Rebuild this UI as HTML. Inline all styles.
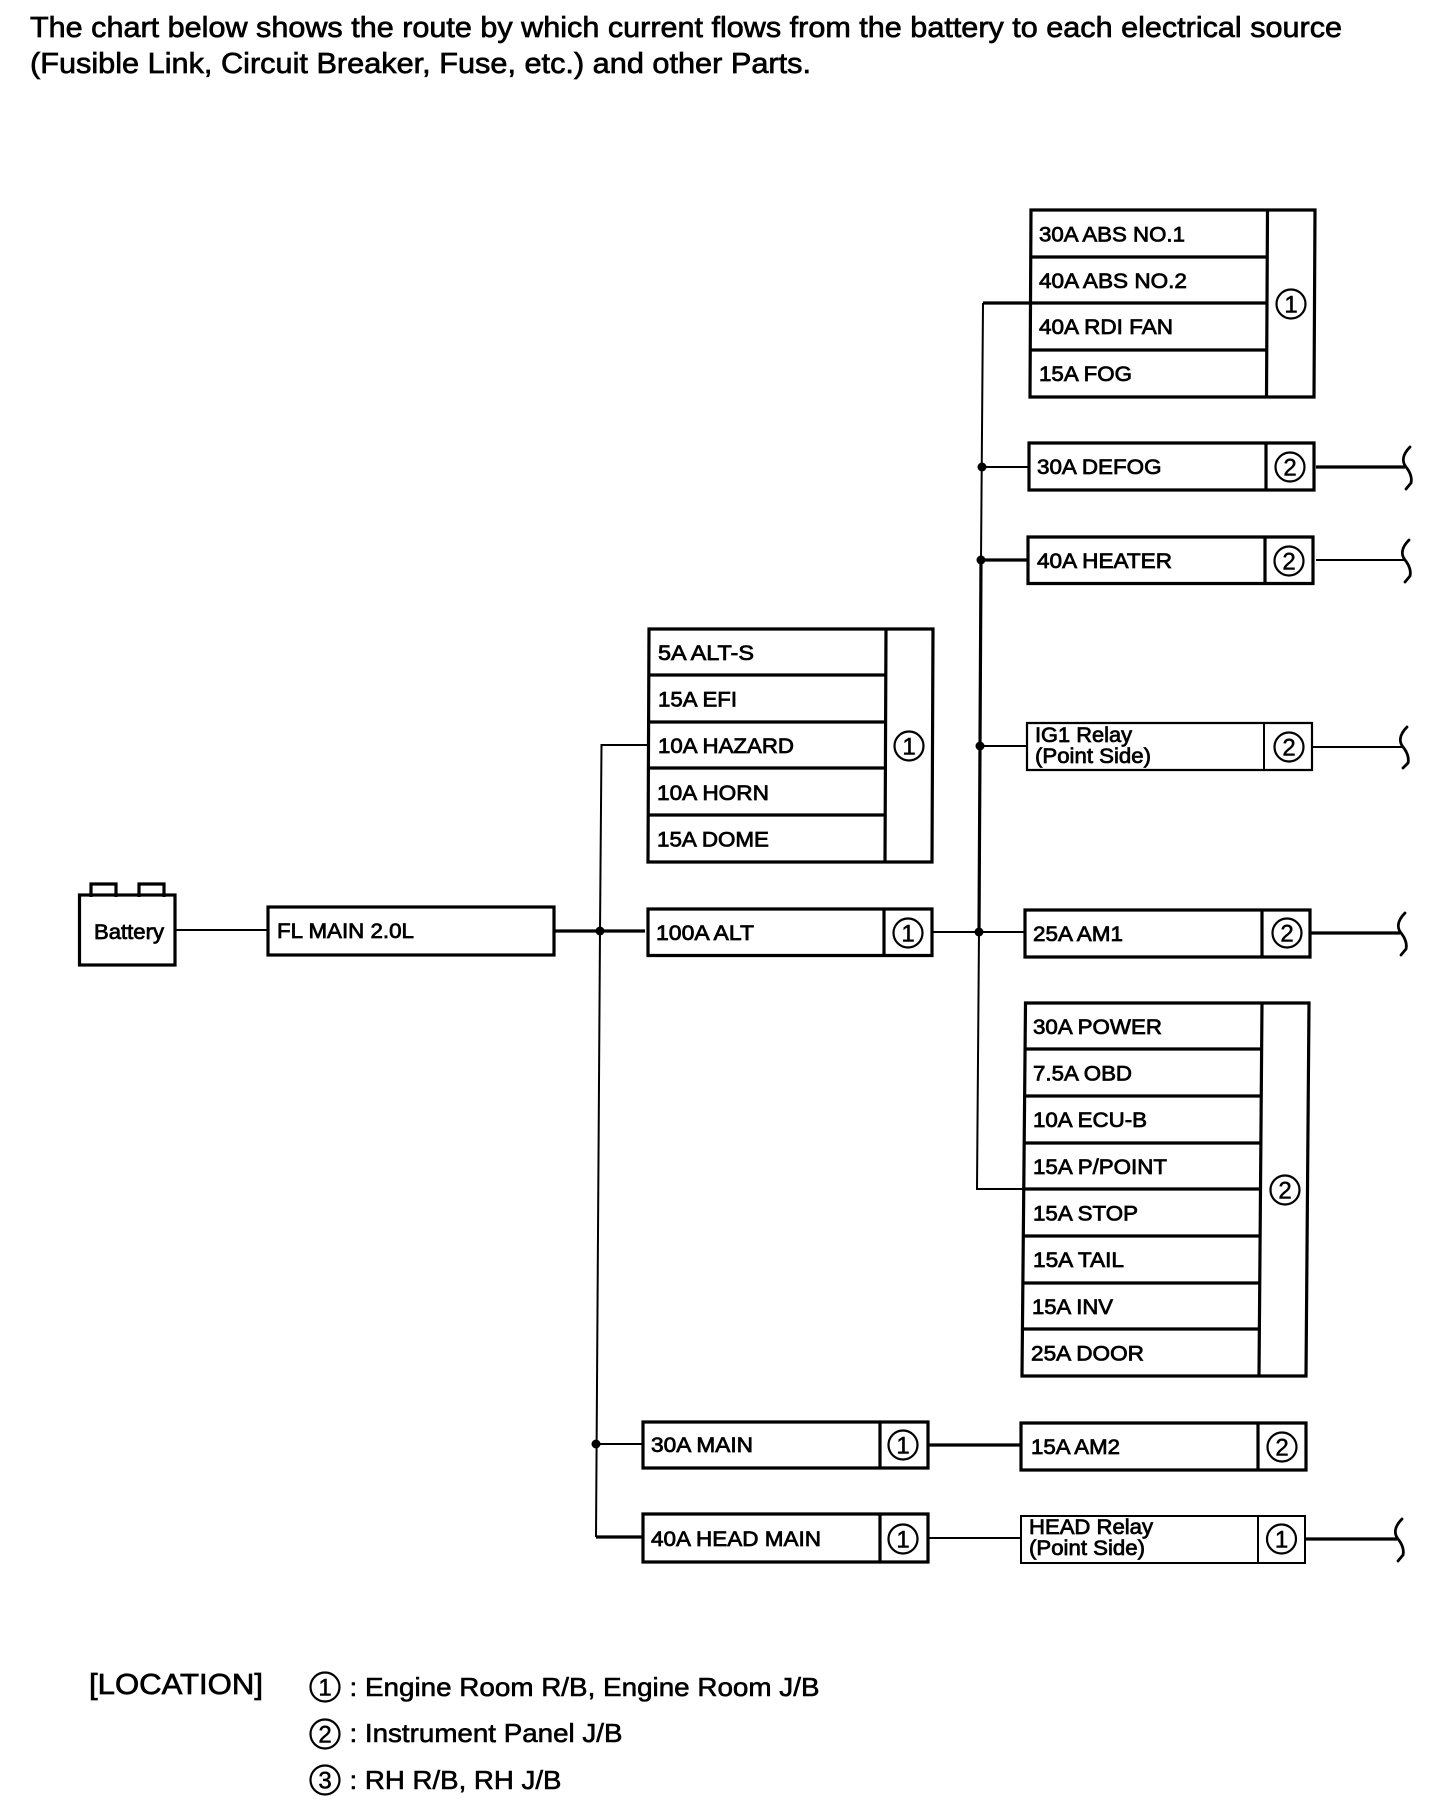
<!DOCTYPE html>
<html lang="en">
<head>
<meta charset="utf-8">
<title>Power Source Chart</title>
<style>
html,body{margin:0;padding:0;background:#fff;width:1440px;height:1814px;overflow:hidden}
svg{display:block}
text{font-family:"Liberation Sans",Arial,sans-serif;fill:#000;stroke:#000}
.h{font-size:29px;stroke-width:.7}
.l{font-size:21px;stroke-width:.75}
.n{font-size:24px;stroke-width:.5;text-anchor:middle}
.g{font-size:26px;stroke-width:.6}
.c{fill:#fff;stroke:#000;stroke-width:2.2}
.k{fill:none;stroke:#000;stroke-width:3.2}
.t{fill:none;stroke:#000;stroke-width:2}
.b{fill:none;stroke:#000;stroke-width:2.8;stroke-linecap:round}
</style>
</head>
<body>
<svg width="1440" height="1814" viewBox="0 0 1440 1814" xmlns="http://www.w3.org/2000/svg">
<rect width="1440" height="1814" fill="#fff"/>

<!-- Heading -->
<text class="h" x="30" y="37" textLength="1312" lengthAdjust="spacingAndGlyphs">The chart below shows the route by which current flows from the battery to each electrical source</text>
<text class="h" x="30" y="73" textLength="781" lengthAdjust="spacingAndGlyphs">(Fusible Link, Circuit Breaker, Fuse, etc.) and other Parts.</text>

<!-- Connectors -->
<path class="t" d="M176 930H268"/>
<path class="k" d="M554 931H645"/>
<path class="t" d="M649 745H601.500L600 931L596 1537"/>
<path class="k" d="M596 1537H643"/>
<path class="t" d="M596 1444H643"/>
<path class="t" d="M932 932H1025"/>
<path class="k" d="M1031 303H983"/>
<path class="t" d="M983 303L981 560"/>
<path class="k" d="M981 560L979 932"/>
<path class="t" d="M979 932L977 1189H1024"/>
<path class="t" d="M982 467H1029"/>
<path class="k" d="M981 560H1028"/>
<path class="t" d="M980 746H1027"/>
<path class="t" d="M979 932H1025"/>
<path class="k" d="M927 1445H1021"/>
<path class="t" d="M927 1538H1020"/>
<path class="k" d="M1316 467H1405"/>
<path class="t" d="M1316 560H1404"/>
<path class="t" d="M1313 747H1402"/>
<path class="k" d="M1311 933H1400"/>
<path class="k" d="M1306 1539H1397"/>

<!-- Junction dots -->
<circle cx="600" cy="931" r="4.500"/>
<circle cx="596" cy="1444" r="4.500"/>
<circle cx="982" cy="467" r="4.500"/>
<circle cx="981" cy="560" r="4.500"/>
<circle cx="980" cy="746" r="4.500"/>
<circle cx="979" cy="932" r="4.500"/>

<!-- Braces -->
<path class="b" d="M1410 447C1402 455 1402 462 1406 467C1411 473 1412 479 1411 483L1406 489"/>
<path class="b" d="M1409 540C1401 548 1401 555 1405 560C1410 566 1411 572 1410 576L1405 582"/>
<path class="b" d="M1407 727C1399 735 1399 742 1403 747C1408 753 1409 759 1408 763L1403 768"/>
<path class="b" d="M1405 913C1397 921 1397 928 1401 933C1406 939 1407 945 1406 949L1401 955"/>
<path class="b" d="M1402 1519C1394 1527 1394 1534 1398 1539C1403 1545 1404 1551 1403 1555L1398 1561"/>

<!-- Battery -->
<path class="k" d="M91 897V884H116V897M139 897V884H164V897"/>
<rect class="k" x="79.500" y="895" width="95.500" height="70"/>
<text class="l" x="94" y="939" textLength="70" lengthAdjust="spacingAndGlyphs">Battery</text>

<!-- FL MAIN -->
<rect class="k" x="268" y="907" width="286" height="48"/>
<text class="l" x="277" y="938" textLength="137" lengthAdjust="spacingAndGlyphs">FL MAIN 2.0L</text>

<!-- Top group -->
<path class="k" d="M1031 210H1315L1314 397H1030ZM1267.500 210L1266.500 397M1031 257H1267M1031 303H1267M1031 350H1267"/>
<text class="l" x="1039" y="241.700" textLength="146" lengthAdjust="spacingAndGlyphs">30A ABS NO.1</text>
<text class="l" x="1039" y="288" textLength="148" lengthAdjust="spacingAndGlyphs">40A ABS NO.2</text>
<text class="l" x="1039" y="334" textLength="134" lengthAdjust="spacingAndGlyphs">40A RDI FAN</text>
<text class="l" x="1039" y="381" textLength="93" lengthAdjust="spacingAndGlyphs">15A FOG</text>
<circle class="c" cx="1291" cy="304" r="14.500"/><text class="n" x="1291" y="312.500">1</text>

<!-- DEFOG -->
<path class="k" d="M1029 443H1314V490H1029ZM1266 443V490"/>
<text class="l" x="1037" y="474" textLength="124.500" lengthAdjust="spacingAndGlyphs">30A DEFOG</text>
<circle class="c" cx="1290" cy="467" r="14.500"/><text class="n" x="1290" y="475.500">2</text>

<!-- HEATER -->
<path class="k" d="M1028 537H1313V583.500H1028ZM1265 537V583.500"/>
<text class="l" x="1037" y="568" textLength="135" lengthAdjust="spacingAndGlyphs">40A HEATER</text>
<circle class="c" cx="1289" cy="561" r="14.500"/><text class="n" x="1289" y="569.500">2</text>

<!-- IG1 Relay -->
<path class="k" d="M1027 723H1312V770H1027Z" style="stroke-width:2.200"/>
<path class="t" d="M1264 723V770"/>
<text class="l" x="1035" y="742" textLength="97" lengthAdjust="spacingAndGlyphs">IG1 Relay</text>
<text class="l" x="1035" y="763" textLength="116" lengthAdjust="spacingAndGlyphs">(Point Side)</text>
<circle class="c" cx="1289" cy="747" r="14.500"/><text class="n" x="1289" y="755.500">2</text>

<!-- AM1 -->
<path class="k" d="M1025 910H1310V957H1025ZM1262 910V957"/>
<text class="l" x="1033" y="941" textLength="90" lengthAdjust="spacingAndGlyphs">25A AM1</text>
<circle class="c" cx="1287" cy="933" r="14.500"/><text class="n" x="1287" y="941.500">2</text>

<!-- Large group -->
<path class="k" d="M1025.500 1003H1309L1306 1376H1022ZM1262 1003L1259 1376M1025 1049H1261.500M1025 1096H1261M1024.500 1143H1261M1024 1189H1260.500M1024 1236H1260M1023 1283H1260M1023 1329H1259.500"/>
<text class="l" x="1033" y="1034" textLength="129" lengthAdjust="spacingAndGlyphs">30A POWER</text>
<text class="l" x="1033" y="1080.500" textLength="99" lengthAdjust="spacingAndGlyphs">7.5A OBD</text>
<text class="l" x="1033" y="1127" textLength="114" lengthAdjust="spacingAndGlyphs">10A ECU-B</text>
<text class="l" x="1033" y="1174" textLength="134" lengthAdjust="spacingAndGlyphs">15A P/POINT</text>
<text class="l" x="1033" y="1220.500" textLength="105" lengthAdjust="spacingAndGlyphs">15A STOP</text>
<text class="l" x="1033" y="1267" textLength="91" lengthAdjust="spacingAndGlyphs">15A TAIL</text>
<text class="l" x="1032" y="1314" textLength="81" lengthAdjust="spacingAndGlyphs">15A INV</text>
<text class="l" x="1031" y="1360.500" textLength="113" lengthAdjust="spacingAndGlyphs">25A DOOR</text>
<circle class="c" cx="1285" cy="1190" r="14.500"/><text class="n" x="1285" y="1198.500">2</text>

<!-- Middle group -->
<path class="k" d="M649 629H933L932 862H648ZM886 629L885 862M649 675H886M649 722H886M649 768H885.500M648.500 815H885.500"/>
<text class="l" x="658" y="660" textLength="96" lengthAdjust="spacingAndGlyphs">5A ALT-S</text>
<text class="l" x="658" y="706.500" textLength="79" lengthAdjust="spacingAndGlyphs">15A EFI</text>
<text class="l" x="658" y="753" textLength="136" lengthAdjust="spacingAndGlyphs">10A HAZARD</text>
<text class="l" x="657" y="800" textLength="112" lengthAdjust="spacingAndGlyphs">10A HORN</text>
<text class="l" x="657" y="846.500" textLength="112" lengthAdjust="spacingAndGlyphs">15A DOME</text>
<circle class="c" cx="909" cy="746" r="14.500"/><text class="n" x="909" y="754.500">1</text>

<!-- 100A ALT -->
<path class="k" d="M648 909H932V955.500H648ZM884 909V955.500"/>
<text class="l" x="656" y="940" textLength="98" lengthAdjust="spacingAndGlyphs">100A ALT</text>
<circle class="c" cx="908" cy="933" r="14.500"/><text class="n" x="908" y="941.500">1</text>

<!-- 30A MAIN -->
<path class="k" d="M643 1422H928V1468H643ZM880 1422V1468"/>
<text class="l" x="651" y="1452" textLength="102" lengthAdjust="spacingAndGlyphs">30A MAIN</text>
<circle class="c" cx="903" cy="1445" r="14.500"/><text class="n" x="903" y="1453.500">1</text>

<!-- 15A AM2 -->
<path class="k" d="M1021 1423H1306V1470H1021ZM1258 1423V1470"/>
<text class="l" x="1031" y="1454" textLength="89" lengthAdjust="spacingAndGlyphs">15A AM2</text>
<circle class="c" cx="1282" cy="1447" r="14.500"/><text class="n" x="1282" y="1455.500">2</text>

<!-- 40A HEAD MAIN -->
<path class="k" d="M643 1514H928V1562H643ZM880 1514V1562"/>
<text class="l" x="651" y="1546" textLength="170" lengthAdjust="spacingAndGlyphs">40A HEAD MAIN</text>
<circle class="c" cx="903" cy="1539" r="14.500"/><text class="n" x="903" y="1547.500">1</text>

<!-- HEAD Relay -->
<path class="t" d="M1021 1516H1305V1563H1021ZM1258 1516V1563"/>
<text class="l" x="1029" y="1534" textLength="124" lengthAdjust="spacingAndGlyphs">HEAD Relay</text>
<text class="l" x="1029" y="1555" textLength="116" lengthAdjust="spacingAndGlyphs">(Point Side)</text>
<circle class="c" cx="1281.500" cy="1539" r="14.500"/><text class="n" x="1281.500" y="1547.500">1</text>

<!-- Location legend -->
<text class="h" x="89" y="1694" textLength="174" lengthAdjust="spacingAndGlyphs">[LOCATION]</text>
<circle class="c" cx="325" cy="1687" r="14.500"/><text class="n" x="325" y="1695.500">1</text>
<text class="g" x="349.500" y="1696" textLength="470" lengthAdjust="spacingAndGlyphs">: Engine Room R/B, Engine Room J/B</text>
<circle class="c" cx="325" cy="1734" r="14.500"/><text class="n" x="325" y="1742.500">2</text>
<text class="g" x="349.500" y="1742" textLength="273" lengthAdjust="spacingAndGlyphs">: Instrument Panel J/B</text>
<circle class="c" cx="325" cy="1780" r="14.500"/><text class="n" x="325" y="1788.500">3</text>
<text class="g" x="349.500" y="1789" textLength="212" lengthAdjust="spacingAndGlyphs">: RH R/B, RH J/B</text>
</svg>
</body>
</html>
